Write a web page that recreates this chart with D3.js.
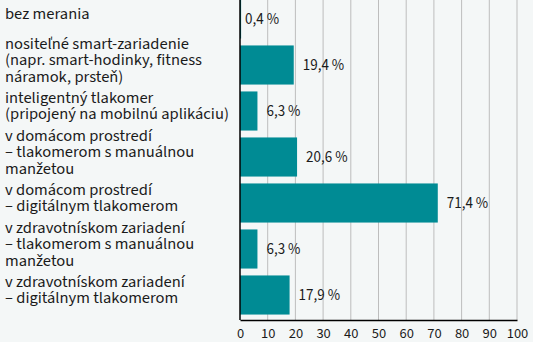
<!DOCTYPE html>
<html>
<head>
<meta charset="utf-8">
<script src="https://cdn.jsdelivr.net/npm/d3@7"></script>
<style>
  html, body { margin: 0; padding: 0; background: #f4f7f7; }
  svg { display: block; }
  text { font-family: "Source Sans 3", "Source Sans Pro", Lato, "Noto Sans", sans-serif; fill: #1a1a1a; }
</style>
</head>
<body>
<svg id="chart" width="533" height="342"></svg>
<script>
// Category labels (each entry holds its wrapped lines)
const categories = [
  ["bez merania"],
  ["nositeľné smart-zariadenie", "(napr. smart-hodinky, fitness", "náramok, prsteň)"],
  ["inteligentný tlakomer", "(pripojený na mobilnú aplikáciu)"],
  ["v domácom prostredí", "– tlakomerom s manuálnou", "manžetou"],
  ["v domácom prostredí", "– digitálnym tlakomerom"],
  ["v zdravotnískom zariadení", "– tlakomerom s manuálnou", "manžetou"],
  ["v zdravotnískom zariadení", "– digitálnym tlakomerom"]
];
const values = [0.4, 19.4, 6.3, 20.6, 71.4, 6.3, 17.9];
const xTicks = [0, 10, 20, 30, 40, 50, 60, 70, 80, 90, 100];

const svg = d3.select("#chart");
const x0 = 240, x1 = 517, axisY = 320;

const x = d3.scaleLinear().domain([0, 100]).range([x0, x1]);
const y = d3.scaleBand()
  .domain(d3.range(categories.length))
  .range([-4, 318])
  .paddingInner(0.15)
  .paddingOuter(0.075);

// vertical gridlines
svg.append("g")
  .selectAll("line")
  .data(xTicks.filter(d => d > 0))
  .join("line")
  .attr("x1", d => x(d)).attr("x2", d => x(d))
  .attr("y1", 0).attr("y2", axisY)
  .attr("stroke", "#bdbdbd")
  .attr("stroke-width", 1);

// bars
svg.append("g")
  .selectAll("rect")
  .data(values)
  .join("rect")
  .attr("x", x(0))
  .attr("y", (d, i) => y(i))
  .attr("width", d => x(d) - x(0))
  .attr("height", y.bandwidth())
  .attr("fill", "#008b94");

// value labels
const fmt = v => d3.format(".1f")(v).replace(".", ",") + " %";
svg.append("g")
  .selectAll("text")
  .data(values)
  .join("text")
  .attr("x", d => x(d) + (d < 1 ? 4 : 9))
  .attr("y", (d, i) => y(i) + y.bandwidth() / 2)
  .attr("dy", "0.35em")
  .attr("font-size", 15)
  .text(fmt);

// category labels
const lineH = 16.5;
const lab = svg.append("g")
  .selectAll("text")
  .data(categories)
  .join("text")
  .attr("font-size", 16.5)
  .attr("x", 5)
  .attr("y", (d, i) => y(i) + y.bandwidth() / 2 - (d.length - 1) * lineH / 2)
  .attr("dy", "0.35em");
lab.selectAll("tspan")
  .data(d => d)
  .join("tspan")
  .attr("x", 5)
  .attr("dy", (d, j) => j === 0 ? 0 : lineH)
  .text(d => d);

// x axis
const xAxis = svg.append("g")
  .attr("transform", `translate(0,${axisY})`)
  .call(d3.axisBottom(x).tickValues(xTicks).tickSize(0).tickPadding(8));
xAxis.select(".domain").attr("stroke", "#000").attr("stroke-width", 1.5);
xAxis.selectAll("text").attr("font-size", 14.5).attr("fill", "#1a1a1a")
  .style("font-family", '"Source Sans 3", "Source Sans Pro", Lato, "Noto Sans", sans-serif');

// left axis line
svg.append("line")
  .attr("x1", x0).attr("x2", x0)
  .attr("y1", 0).attr("y2", axisY)
  .attr("stroke", "#000").attr("stroke-width", 1.5);
</script>
</body>
</html>
